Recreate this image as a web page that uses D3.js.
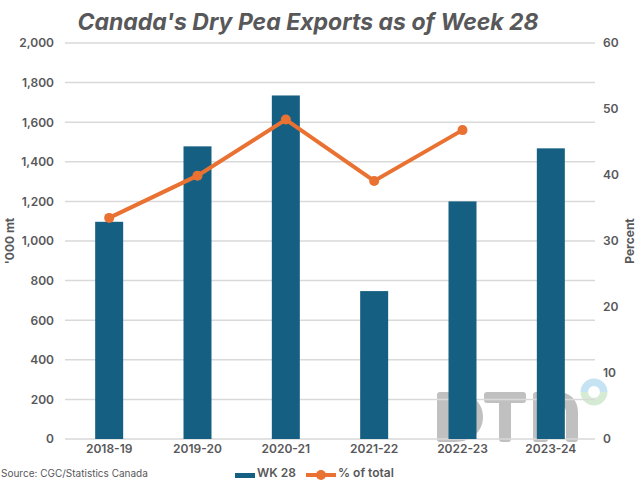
<!DOCTYPE html>
<html>
<head>
<meta charset="utf-8">
<script src="https://cdn.jsdelivr.net/npm/d3@7"></script>
<style>
  html, body { margin: 0; padding: 0; background: #fff; }
  text { font-family: Inter, "Open Sans", sans-serif; fill: #58585a; }
</style>
</head>
<body>
<div id="vis"></div>
<script>
// values
var years = ["2018-19", "2019-20", "2020-21", "2021-22", "2022-23", "2023-24"];
var wk28 = [1097, 1478, 1735, 747, 1200, 1468];
var pctTotal = [33.5, 39.9, 48.4, 39.1, 46.8, null];
var leftTicks = [0, 200, 400, 600, 800, 1000, 1200, 1400, 1600, 1800, 2000];
var rightTicks = [0, 10, 20, 30, 40, 50, 60];

var blue = "#156082", orange = "#e97132", grid = "#d9d9d9";

var svg = d3.select("#vis").append("svg")
  .attr("width", 640).attr("height", 480)
  .style("display", "block");

var x = d3.scaleBand().domain(years).range([65, 595]);
var yL = d3.scaleLinear().domain([0, 2000]).range([439, 43]);
var yR = d3.scaleLinear().domain([0, 60]).range([439, 43]);

// DTN watermark sits under the grid
var wm = svg.append("g").attr("fill", "#c0c0c0");
wm.append("path").attr("d", "M437 395a3 3 0 0 1 3-3h14c18 0 29 11 29 25s-11 25-29 25h-14a3 3 0 0 1-3-3z");
wm.append("rect").attr("x", 484).attr("y", 392).attr("width", 42).attr("height", 11).attr("rx", 3);
wm.append("rect").attr("x", 499).attr("y", 392).attr("width", 12).attr("height", 50).attr("rx", 3);
wm.append("path").attr("d", "M533 395a3 3 0 0 1 3-3h22c12 0 20 8 20 20v27a3 3 0 0 1-3 3h-6a3 3 0 0 1-3-3v-26c0-6-3-9-9-9h-9v35a3 3 0 0 1-3 3h-9a3 3 0 0 1-3-3z");
var arc = d3.arc().innerRadius(6).outerRadius(13.5);
var logo = svg.append("g").attr("transform", "translate(594,392)");
logo.append("path").attr("fill", "#c5e3f2").attr("d", arc({startAngle: -Math.PI / 2, endAngle: Math.PI / 2}));
logo.append("path").attr("fill", "#d6ebd3").attr("d", arc({startAngle: Math.PI / 2, endAngle: Math.PI * 1.5}));

svg.append("g").selectAll("line").data(leftTicks).join("line")
  .attr("x1", 65).attr("x2", 595)
  .attr("y1", function (d) { return yL(d); })
  .attr("y2", function (d) { return yL(d); })
  .attr("stroke", grid).attr("stroke-width", 1.5);

// axes, only the labels show
var axL = svg.append("g").attr("transform", "translate(65,0)")
  .call(d3.axisLeft(yL).tickValues(leftTicks).tickFormat(d3.format(",")).tickSize(0).tickPadding(11));
var axR = svg.append("g").attr("transform", "translate(595,0)")
  .call(d3.axisRight(yR).tickValues(rightTicks).tickSize(0).tickPadding(8));
var axB = svg.append("g").attr("transform", "translate(0,439)")
  .call(d3.axisBottom(x).tickSize(0).tickPadding(5));
[axL, axR, axB].forEach(function (a) {
  a.select(".domain").remove();
  a.selectAll("text").style("font-size", "12px").style("font-weight", 600).attr("fill", "#58585a");
});

var barW = 28;
svg.append("g").selectAll("rect").data(years).join("rect")
  .attr("x", function (d) { return x(d) + x.bandwidth() / 2 - barW / 2; })
  .attr("width", barW)
  .attr("y", function (d, i) { return yL(wk28[i]); })
  .attr("height", function (d, i) { return yL(0) - yL(wk28[i]); })
  .attr("fill", blue);

var line = d3.line()
  .defined(function (d) { return d.v !== null; })
  .x(function (d) { return x(d.y) + x.bandwidth() / 2; })
  .y(function (d) { return yR(d.v); });
var pts = years.map(function (y, i) { return {y: y, v: pctTotal[i]}; });

svg.append("path").datum(pts)
  .attr("d", line).attr("fill", "none")
  .attr("stroke", orange).attr("stroke-width", 4);
svg.append("g").selectAll("circle").data(pts.filter(function (d) { return d.v !== null; })).join("circle")
  .attr("cx", function (d) { return x(d.y) + x.bandwidth() / 2; })
  .attr("cy", function (d) { return yR(d.v); })
  .attr("r", 5).attr("fill", orange);

svg.append("text").attr("x", 308).attr("y", 30).attr("text-anchor", "middle")
  .style("font-size", "23px").style("font-weight", 700).style("font-style", "italic")
  .text("Canada's Dry Pea Exports as of Week 28");

svg.append("text").attr("transform", "translate(14,241) rotate(-90)").attr("text-anchor", "middle")
  .style("font-size", "12px").style("font-weight", 700).text("'000 mt");
svg.append("text").attr("transform", "translate(634,241) rotate(-90)").attr("text-anchor", "middle")
  .style("font-size", "12px").style("font-weight", 700).text("Percent");

svg.append("text").attr("x", 1).attr("y", 477).style("font-size", "10px").text("Source: CGC/Statistics Canada");

// legend
svg.append("rect").attr("x", 235).attr("y", 473).attr("width", 20).attr("height", 5).attr("fill", blue);
svg.append("text").attr("x", 257).attr("y", 477).style("font-size", "12px").style("font-weight", 600).text("WK 28");
svg.append("line").attr("x1", 306).attr("x2", 336).attr("y1", 475).attr("y2", 475)
  .attr("stroke", orange).attr("stroke-width", 4);
svg.append("circle").attr("cx", 321).attr("cy", 475).attr("r", 5).attr("fill", orange);
svg.append("text").attr("x", 338).attr("y", 477).style("font-size", "12px").style("font-weight", 600).text("% of total");
</script>
</body>
</html>
